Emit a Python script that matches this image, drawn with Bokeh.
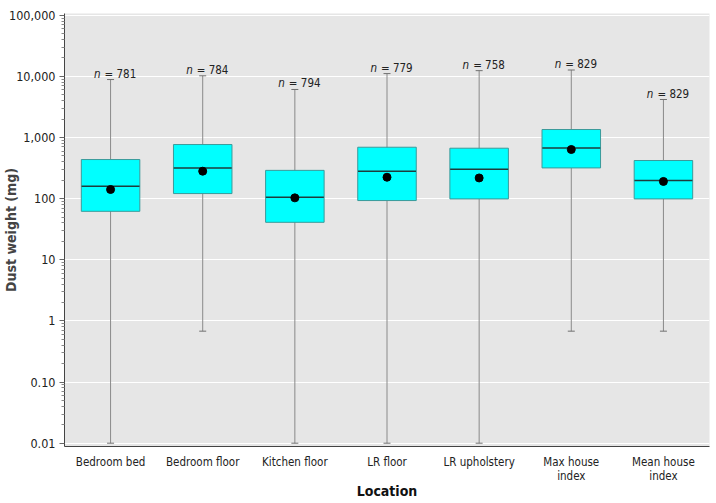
from bokeh.plotting import figure
from bokeh.models import ColumnDataSource, FixedTicker, CustomJSTickFormatter, Range1d, FactorRange, Title
from bokeh.core.properties import value
from bokeh.embed import file_html
from bokeh.resources import INLINE

categories = ["Bedroom bed", "Bedroom floor", "Kitchen floor", "LR floor",
              "LR upholstery", "Max house\nindex", "Mean house\nindex"]
whisker_low = [0.01, 0.68, 0.01, 0.01, 0.01, 0.68, 0.68]
q1 = [62, 121, 41, 93, 99, 318, 99]
median = [160, 318, 105, 281, 303, 676, 198]
mean = [141, 281, 103, 224, 218, 636, 191]
q3 = [436, 767, 290, 693, 668, 1350, 420]
whisker_high = [8870, 10200, 6100, 11100, 12400, 12700, 4180]
n_obs = [781, 784, 794, 779, 758, 829, 829]
major_ticks = [0.01, 0.1, 1, 10, 100, 1000, 10000, 100000]

FONT = "DejaVu Sans Condensed, Liberation Sans, sans-serif"

src = ColumnDataSource(dict(
    cat=categories, lo=whisker_low, q1=q1, med=median, mean=mean, q3=q3,
    hi=whisker_high, nlab=["= %d" % v for v in n_obs], ital=["n"] * len(n_obs),
))

p = figure(width=711, height=502, output_backend="svg", toolbar_location=None,
           x_range=FactorRange(factors=categories, range_padding=0.0),
           y_axis_type="log", y_range=Range1d(10 ** -2.054, 10 ** 5.028),
           min_border_left=64, min_border_right=2, min_border_top=13, min_border_bottom=56)

p.background_fill_color = "#e6e6e6"
p.border_fill_color = "white"
p.outline_line_color = None

# whiskers
p.segment(x0="cat", y0="lo", x1="cat", y1="hi", source=src, line_color="#8a8a8a", line_width=1)
p.scatter(x="cat", y="lo", source=src, marker="dash", size=7, line_color="#707070", line_width=1)
p.scatter(x="cat", y="hi", source=src, marker="dash", size=7, line_color="#707070", line_width=1)

# boxes
p.vbar(x="cat", width=0.635, bottom="q1", top="q3", source=src,
       fill_color="#00ffff", line_color="#3a9a9a", line_width=1)
p.scatter(x="cat", y="med", source=src, marker="dash", size=58, line_color="#1e3c3c", line_width=1.5)
p.scatter(x="cat", y="mean", source=src, marker="circle", size=8, fill_color="black", line_color="black")

# n labels
p.text(x="cat", y="hi", text="ital", source=src, x_offset=-10, y_offset=-6,
       text_align="right", text_baseline="alphabetic", text_font=value(FONT),
       text_font_style="italic", text_font_size="11.5px", text_color="#222222")
p.text(x="cat", y="hi", text="nlab", source=src, x_offset=-6, y_offset=-6,
       text_align="left", text_baseline="alphabetic", text_font=value(FONT),
       text_font_size="11.5px", text_color="#222222")

# y axis
ya = p.yaxis[0]
ya.ticker = FixedTicker(ticks=major_ticks,
                        minor_ticks=[m * 10 ** e for e in range(-2, 5) for m in range(2, 10)])
ya.formatter = CustomJSTickFormatter(code="""
if (tick >= 1) { return Math.round(tick).toString().replace(/\\B(?=(\\d{3})+(?!\\d))/g, ","); }
return tick.toFixed(2);
""")
ya.axis_label = "Dust weight (mg)"
ya.axis_label_text_font = FONT
ya.axis_label_text_font_style = "bold"
ya.axis_label_text_font_size = "14px"
ya.axis_label_standoff = -13
ya.major_label_text_font = FONT
ya.major_label_text_font_size = "12.5px"
ya.major_label_text_color = "#222222"
ya.major_label_standoff = 4
ya.major_tick_out = 5
ya.major_tick_in = 0
ya.minor_tick_out = 3
ya.minor_tick_in = 0
ya.axis_line_color = "#444444"
ya.major_tick_line_color = "#666666"
ya.minor_tick_line_color = "#888888"

# x axis
xa = p.xaxis[0]
xa.major_label_text_font = FONT
xa.major_label_text_font_size = "11.5px"
xa.major_label_text_line_height = 1.0
xa.major_label_text_color = "#222222"
xa.major_label_standoff = 8
xa.major_tick_line_color = None
xa.minor_tick_line_color = None
xa.major_tick_out = 0
xa.axis_line_color = "#444444"

p.add_layout(Title(text="Location", align="center", text_font=FONT, text_font_style="bold",
                   text_font_size="14px", text_color="#111111", standoff=-9, offset=0), "below")

p.xgrid.grid_line_color = None
p.ygrid.grid_line_color = "white"
p.ygrid.grid_line_width = 1.2

open("out.html", "w").write(file_html(p, INLINE))
